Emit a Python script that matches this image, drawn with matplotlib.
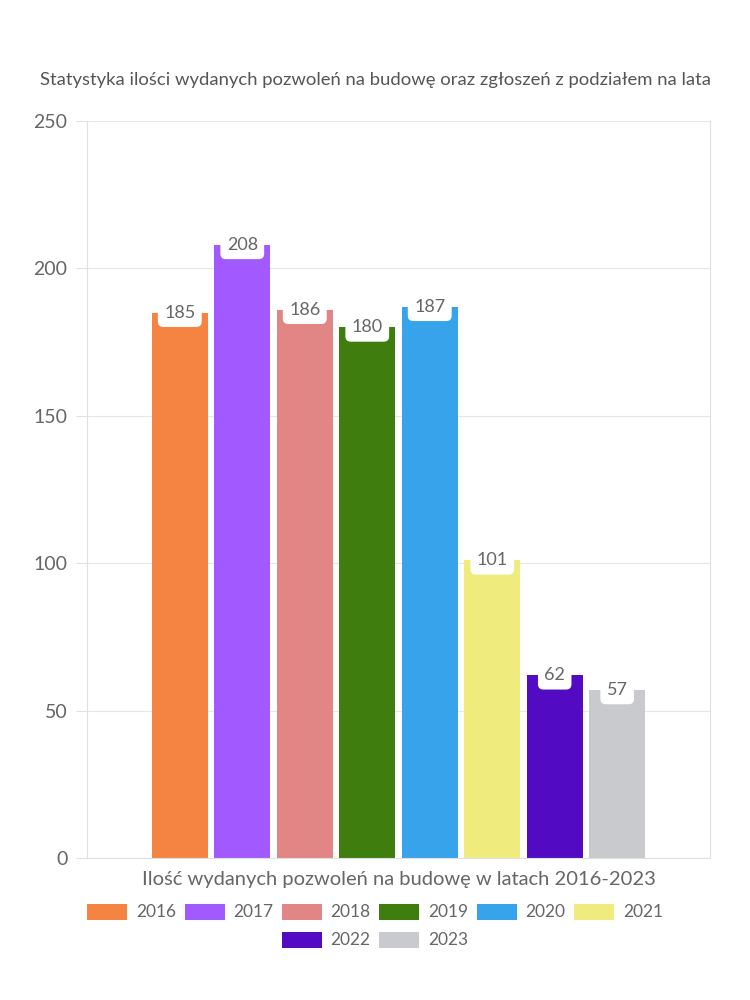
import matplotlib
matplotlib.use("Agg")
import matplotlib.pyplot as plt
from matplotlib.patches import Patch

years = ["2016", "2017", "2018", "2019", "2020", "2021", "2022", "2023"]
values = [185, 208, 186, 180, 187, 101, 62, 57]
colors = ["#F58442", "#A259FF", "#E28585", "#3E7D0E", "#36A3EB", "#F0EB7D", "#520BC2", "#C9CACE"]
yticks = [0, 50, 100, 150, 200, 250]
title = "Statystyka ilości wydanych pozwoleń na budowę oraz zgłoszeń z podziałem na lata"
xlabel = "Ilość wydanych pozwoleń na budowę w latach 2016-2023"

plt.rcParams['font.family'] = ['Lato', 'DejaVu Sans']
txt = "#666666"

fig = plt.figure(figsize=(7.5, 10), dpi=100)
ax = fig.add_axes([87/750, 1-858/1000, (710-87)/750, (858-121)/1000])

xs = list(range(len(years)))
ax.bar(xs, values, width=0.896, color=colors, zorder=2)
ax.set_xlim(3.5-4.985, 3.5+4.985)
ax.set_ylim(0, 250)
ax.set_yticks(yticks)
ax.set_yticklabels([str(t) for t in yticks], fontsize=14, color=txt)
ax.set_xticks([])
ax.tick_params(axis='y', length=8, color="#e0e0e0", pad=6)
ax.grid(axis='y', color="#e6e6e6", linewidth=0.8, zorder=0)
for s in ['left', 'right', 'bottom']:
    ax.spines[s].set_color("#e0e0e0")
    ax.spines[s].set_linewidth(0.8)
ax.spines['top'].set_visible(False)

for x, v in zip(xs, values):
    ax.annotate(str(v), (x, v), ha='center', va='center', fontsize=13, color=txt,
                bbox=dict(boxstyle="round,pad=0.35,rounding_size=0.3", fc="white", ec="none"),
                zorder=3)

fig.text(375/750, 1-80/1000, title, ha='center', va='center', fontsize=13.3, color="#555555")
fig.text(399/750, 1-880/1000, xlabel, ha='center', va='center', fontsize=14.5, color=txt)

lkw = dict(loc='center', frameon=False, fontsize=12.5, handlelength=2.3, handleheight=1.05,
           columnspacing=0.5, handletextpad=0.5, labelcolor=txt)
h1 = [Patch(facecolor=c, edgecolor='none') for c in colors[:6]]
h2 = [Patch(facecolor=c, edgecolor='none') for c in colors[6:]]
leg1 = fig.legend(h1, years[:6], bbox_to_anchor=(375/750, 1-912/1000), ncol=6, **lkw)
leg2 = fig.legend(h2, years[6:], bbox_to_anchor=(375/750, 1-940/1000), ncol=2, **lkw)

fig.savefig("out.png", dpi=100, facecolor="white")
